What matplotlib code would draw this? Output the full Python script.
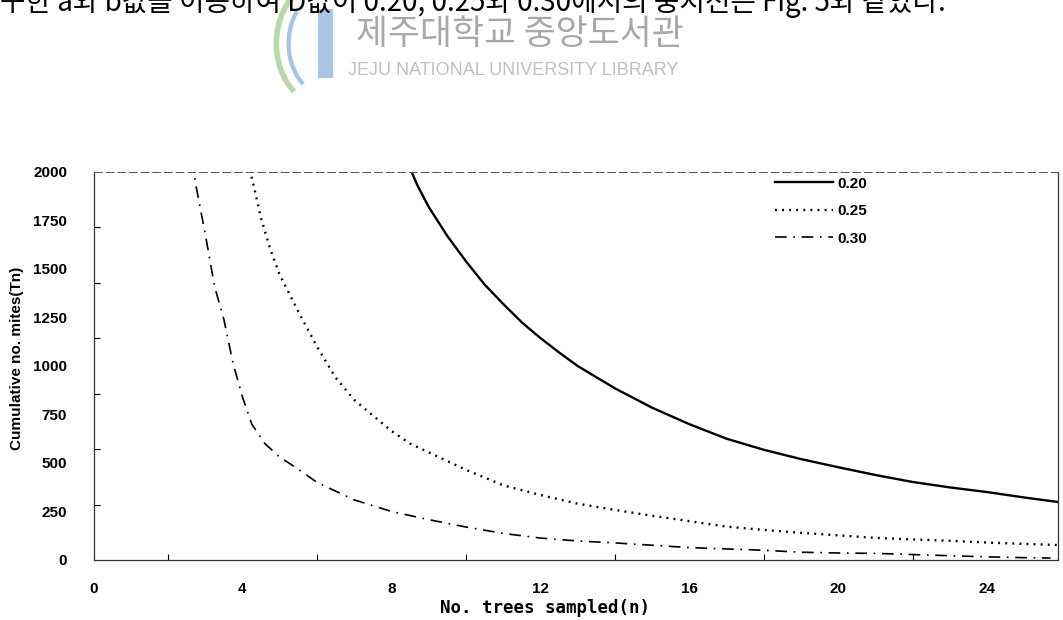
import numpy as np
import matplotlib
matplotlib.use("Agg")
import matplotlib.pyplot as plt
from matplotlib.patches import Rectangle, Arc


# values (n, Tn)
n_020 = [8.40, 8.70, 9.0, 9.5, 10.0, 10.5, 11.0, 11.5, 12.0, 12.5, 13.0, 14.0,
         15.0, 16.0, 17.0, 18.0, 19.0, 20.0, 21.0, 22.0, 23.0, 24.0, 25.0, 25.9]
tn_020 = [2062, 1930, 1820, 1670, 1540, 1420, 1320, 1225, 1144, 1070, 1000, 885,
          785, 700, 625, 568, 520, 478, 438, 402, 374, 350, 322, 299]

n_025 = [4.15, 4.3, 4.5, 4.75, 5.0, 5.5, 6.0, 6.5, 7.0, 7.5, 8.0, 8.5, 9.0,
         9.5, 10.0, 10.5, 11.0, 12.0, 13.0, 14.0, 15.0, 16.0, 17.0, 18.0, 19.0,
         20.0, 21.0, 22.0, 23.0, 24.0, 25.0, 25.9]
tn_025 = [2046, 1930, 1760, 1600, 1470, 1280, 1100, 940, 825, 745, 665, 600,
          555, 510, 465, 425, 385, 335, 290, 258, 228, 200, 172, 155, 140, 127,
          114, 106, 99, 90, 83, 77]

n_030 = [2.65, 2.75, 3.0, 3.25, 3.5, 3.75, 4.0, 4.25, 4.6, 5.0, 5.5, 6.0, 6.5,
         7.0, 8.0, 9.0, 10.0, 11.0, 12.0, 13.0, 14.0, 15.0, 16.0, 17.0, 18.0,
         19.0, 20.0, 21.0, 22.0, 23.0, 24.0, 25.0, 25.7]
tn_030 = [2062, 1930, 1680, 1410, 1240, 1010, 840, 700, 600, 530, 468, 400, 355,
          310, 250, 208, 170, 137, 113, 98, 88, 76, 64, 57, 50, 40, 36, 34, 28,
          22, 16, 12, 10]

series_labels = ["0.20", "0.25", "0.30"]
x_labels = [0, 4, 8, 12, 16, 20, 24]
y_labels = [0, 250, 500, 750, 1000, 1250, 1500, 1750, 2000]

fig = plt.figure(figsize=(10.63, 6.2), dpi=100)
ax = fig.add_axes([0.0880, 0.0968, 0.9073, 0.6258])

ax.plot(n_020, tn_020, color="black", lw=1.7, linestyle="-", label=series_labels[0])
ax.plot(n_025, tn_025, color="black", lw=1.7, linestyle=(0, (0.8, 2.2)),
        label=series_labels[1])
ax.plot(n_030, tn_030, color="black", lw=1.2, linestyle=(0, (7, 4, 1, 4)),
        label=series_labels[2])

ax.set_xlim(0, 25.9)
ax.set_ylim(0, 2000)

ax.set_xticks(x_labels)
ax.set_xticklabels([str(v) for v in x_labels], fontsize=11, fontweight="bold",
                   family="Liberation Sans")
ax.set_xticks(np.arange(2, 25, 2), minor=True)
ax.set_yticks(y_labels)
ax.set_yticklabels([str(v) for v in y_labels], fontsize=11, fontweight="bold",
                   family="Liberation Sans")
ax.set_yticks(np.arange(1, 7) * 2000 / 7, minor=True)
ax.tick_params(axis="x", which="major", length=0, pad=16)
ax.tick_params(axis="y", which="major", length=0, pad=19)
ax.tick_params(which="minor", direction="in", length=4, width=0.8)

for side in ["left", "right", "bottom"]:
    ax.spines[side].set_linewidth(0.9)
    ax.spines[side].set_color("#333333")
ax.spines["top"].set_linestyle((0, (8, 4)))
ax.spines["top"].set_linewidth(0.7)
ax.spines["top"].set_color("#555555")

ax.legend(loc="upper left", bbox_to_anchor=(0.7066, 0.988), frameon=False,
          borderpad=0, borderaxespad=0, handlelength=3.8, handletextpad=0.26,
          labelspacing=0.88, prop={"family": "Liberation Sans",
                                   "weight": "bold", "size": 11})

fig.text(0.513, 0.019, "No. trees sampled(n)", ha="center", va="center",
         fontsize=12.5, fontweight="bold", family="DejaVu Sans Mono")
fig.text(0.016, 0.4226, "Cumulative no. mites(Tn)", ha="center", va="center",
         rotation=90, fontsize=11, fontweight="bold", family="Liberation Sans")

# cut-off line of body text at the very top
fig.text(0.0, 0.982, "구한 a와 b값을 이용하여 D값이 0.20, 0.25와 0.30에서의 중지선은 Fig. 5와 같았다.",
         ha="left", va="baseline", fontsize=20, color="black",
         family=["Noto Sans CJK KR", "DejaVu Sans"])

# library watermark
fig.text(0.335, 0.945, "제주대학교 중앙도서관", ha="left", va="center",
         fontsize=25, color="#a8a8a8", family=["Noto Sans CJK KR", "DejaVu Sans"])
fig.text(0.327, 0.887, "JEJU NATIONAL UNIVERSITY LIBRARY", ha="left", va="center",
         fontsize=13, color="#c0c0c0", family="Liberation Sans")
fig.patches.append(Rectangle((0.299, 0.875), 0.014, 0.11, transform=fig.transFigure,
                             facecolor="#a9c4e4", edgecolor="none"))
fig.patches.append(Arc((0.305, 0.93), 0.09, 0.2, theta1=110, theta2=250,
                       transform=fig.transFigure, color="#b9d9a8", lw=4))
fig.patches.append(Arc((0.309, 0.93), 0.075, 0.17, theta1=120, theta2=250,
                       transform=fig.transFigure, color="#9fc6e8", lw=3))

fig.savefig("out.png", dpi=100)
